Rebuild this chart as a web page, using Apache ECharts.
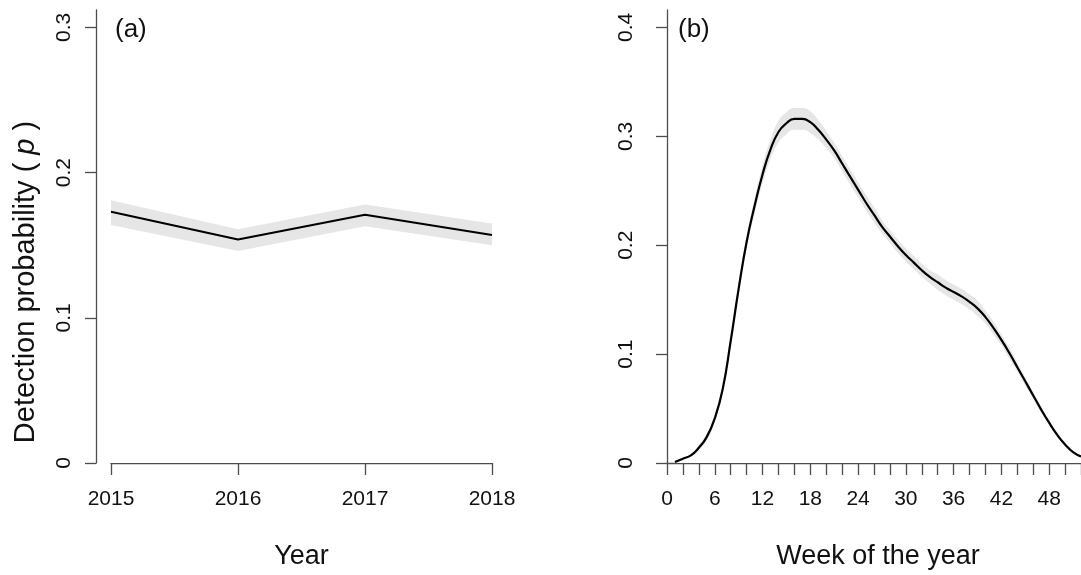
<!DOCTYPE html>
<html>
<head>
<meta charset="utf-8">
<script src="https://cdn.jsdelivr.net/npm/echarts@6/dist/echarts.min.js"></script>
<style>
  html, body { margin: 0; padding: 0; background: #fff; }
  #chart { width: 1081px; height: 575px; }
</style>
</head>
<body>
<div id="chart"></div>
<script>
// panel (a): detection probability by year
const years = [2015, 2016, 2017, 2018];
const yearMean = [0.173, 0.154, 0.171, 0.157];
const yearLower = [0.164, 0.146, 0.163, 0.150];
const yearUpper = [0.181, 0.161, 0.178, 0.165];

// panel (b): detection probability by week of the year
const weeks = [1, 2, 3, 4, 5, 6, 7, 8, 9, 10, 11, 12, 13, 14, 15, 16, 17, 18, 19, 20, 21, 22, 23, 24, 25, 26,
  27, 28, 29, 30, 31, 32, 33, 34, 35, 36, 37, 38, 39, 40, 41, 42, 43, 44, 45, 46, 47, 48, 49, 50, 51, 52];
const weekMean = [0.001, 0.004, 0.007, 0.014, 0.024, 0.041, 0.068, 0.112, 0.160, 0.203, 0.236, 0.265, 0.288,
  0.304, 0.312, 0.316, 0.316, 0.313, 0.306, 0.297, 0.287, 0.275, 0.263, 0.251, 0.239, 0.228, 0.217, 0.208,
  0.199, 0.191, 0.184, 0.177, 0.171, 0.166, 0.161, 0.157, 0.153, 0.148, 0.142, 0.134, 0.124, 0.113, 0.101,
  0.088, 0.075, 0.062, 0.049, 0.037, 0.026, 0.017, 0.010, 0.006];
const weekLower = [0.000, 0.003, 0.006, 0.012, 0.021, 0.038, 0.064, 0.107, 0.155, 0.197, 0.229, 0.257, 0.279,
  0.294, 0.302, 0.306, 0.306, 0.303, 0.297, 0.289, 0.280, 0.268, 0.256, 0.244, 0.232, 0.221, 0.211, 0.202,
  0.193, 0.185, 0.178, 0.171, 0.165, 0.159, 0.154, 0.150, 0.146, 0.141, 0.135, 0.128, 0.118, 0.108, 0.096,
  0.084, 0.071, 0.059, 0.046, 0.035, 0.024, 0.016, 0.009, 0.005];
const weekUpper = [0.002, 0.005, 0.008, 0.016, 0.027, 0.044, 0.072, 0.117, 0.165, 0.209, 0.243, 0.273, 0.297,
  0.314, 0.322, 0.326, 0.326, 0.323, 0.315, 0.305, 0.294, 0.282, 0.270, 0.258, 0.246, 0.235, 0.223, 0.214,
  0.205, 0.197, 0.190, 0.183, 0.177, 0.173, 0.168, 0.164, 0.160, 0.155, 0.149, 0.140, 0.130, 0.118, 0.106,
  0.092, 0.079, 0.065, 0.052, 0.039, 0.028, 0.018, 0.011, 0.007];

// tick labels
const yTicksA = [0, 0.1, 0.2, 0.3];
const yTicksB = [0, 0.1, 0.2, 0.3, 0.4];
const weekTicks = [0, 2, 4, 6, 8, 10, 12, 14, 16, 18, 20, 22, 24, 26, 28, 30, 32, 34, 36, 38, 40, 42, 44, 46, 48, 50, 52];
const weekLabels = [0, 6, 12, 18, 24, 30, 36, 42, 48];

const FONT = "'Liberation Sans', Arial, Helvetica, sans-serif";
const AXIS_COLOR = '#4d4d4d';
const TEXT_COLOR = '#111';
const BAND_COLOR = '#e6e6e6';

const pairs = (xs, ys) => xs.map((x, i) => [x, ys[i]]);
const fmtY = v => (v === 0 ? '0' : v.toFixed(1));

function yAxisFor(gridIndex, max, ticks, offset) {
  return {
    type: 'value',
    gridIndex: gridIndex,
    min: 0,
    max: max,
    offset: offset,
    splitLine: { show: false },
    axisLine: { show: true, lineStyle: { color: AXIS_COLOR, width: 1.3 } },
    axisTick: { show: true, length: 11, customValues: ticks, lineStyle: { color: AXIS_COLOR, width: 1.3 } },
    axisLabel: {
      customValues: ticks,
      rotate: 90,
      margin: 21,
      fontSize: 21,
      fontFamily: FONT,
      color: TEXT_COLOR,
      formatter: fmtY
    }
  };
}

// confidence band: grey area under the upper bound, masked with white under the lower bound
function band(axis, xs, lo, hi, smooth) {
  return [
    {
      type: 'line', xAxisIndex: axis, yAxisIndex: axis, symbol: 'none', smooth: smooth, silent: true,
      data: pairs(xs, hi),
      lineStyle: { width: 0, opacity: 0 },
      areaStyle: { color: BAND_COLOR, opacity: 1, origin: 'start' },
      z: 1
    },
    {
      type: 'line', xAxisIndex: axis, yAxisIndex: axis, symbol: 'none', smooth: smooth, silent: true,
      data: pairs(xs, lo),
      lineStyle: { width: 0, opacity: 0 },
      areaStyle: { color: '#fff', opacity: 1, origin: 'start' },
      z: 1
    }
  ];
}

const chart = echarts.init(document.getElementById('chart'));

const option = {
  animation: false,
  backgroundColor: '#fff',
  grid: [
    { left: 111, top: 10, width: 381, height: 453 },
    { left: 667, top: 10, width: 415, height: 453 }
  ],
  xAxis: [
    {
      type: 'value',
      gridIndex: 0,
      min: 2015,
      max: 2018,
      interval: 1,
      offset: 5,
      splitLine: { show: false },
      axisLine: { lineStyle: { color: AXIS_COLOR, width: 1.3 } },
      axisTick: { show: true, length: 12, lineStyle: { color: AXIS_COLOR, width: 1.3 } },
      axisLabel: { margin: 21, fontSize: 21, fontFamily: FONT, color: TEXT_COLOR, formatter: v => String(v) },
      name: 'Year',
      nameLocation: 'middle',
      nameGap: 75,
      nameTextStyle: { fontSize: 27, fontFamily: FONT, color: TEXT_COLOR }
    },
    {
      type: 'value',
      gridIndex: 1,
      min: 0,
      max: 52,
      interval: 2,
      offset: 5,
      splitLine: { show: false },
      axisLine: { lineStyle: { color: AXIS_COLOR, width: 1.3 } },
      axisTick: { show: true, length: 12, customValues: weekTicks, lineStyle: { color: AXIS_COLOR, width: 1.3 } },
      axisLabel: {
        customValues: weekLabels,
        margin: 21,
        fontSize: 21,
        fontFamily: FONT,
        color: TEXT_COLOR,
        formatter: v => String(v)
      },
      name: 'Week of the year',
      nameLocation: 'middle',
      nameGap: 75,
      nameTextStyle: { fontSize: 27, fontFamily: FONT, color: TEXT_COLOR, padding: [0, 0, 0, 8] }
    }
  ],
  yAxis: [
    yAxisFor(0, 0.312, yTicksA, 15),
    yAxisFor(1, 0.416, yTicksB, 9)
  ],
  graphic: [
    {
      type: 'text',
      x: 26,
      y: 282,
      rotation: Math.PI / 2,
      style: {
        text: 'Detection probability ( {i|p} )',
        fontSize: 29,
        fontFamily: FONT,
        fill: TEXT_COLOR,
        align: 'center',
        verticalAlign: 'middle',
        rich: { i: { fontStyle: 'italic', fontSize: 29, fontFamily: FONT, fill: TEXT_COLOR } }
      }
    },
    {
      type: 'text', x: 115, y: 30, z: 10,
      style: { text: '(a)', fontSize: 26, fontFamily: FONT, fill: TEXT_COLOR, verticalAlign: 'middle' }
    },
    {
      type: 'text', x: 678, y: 30, z: 10,
      style: { text: '(b)', fontSize: 26, fontFamily: FONT, fill: TEXT_COLOR, verticalAlign: 'middle' }
    }
  ],
  series: [
    ...band(0, years, yearLower, yearUpper, false),
    {
      type: 'line', xAxisIndex: 0, yAxisIndex: 0, symbol: 'none', z: 3,
      data: pairs(years, yearMean),
      lineStyle: { color: '#000', width: 2 }
    },
    ...band(1, weeks, weekLower, weekUpper, 0.5),
    {
      type: 'line', xAxisIndex: 1, yAxisIndex: 1, symbol: 'none', smooth: 0.5, z: 3,
      data: pairs(weeks, weekMean),
      lineStyle: { color: '#000', width: 2.2 }
    }
  ]
};

chart.setOption(option);
</script>
</body>
</html>
